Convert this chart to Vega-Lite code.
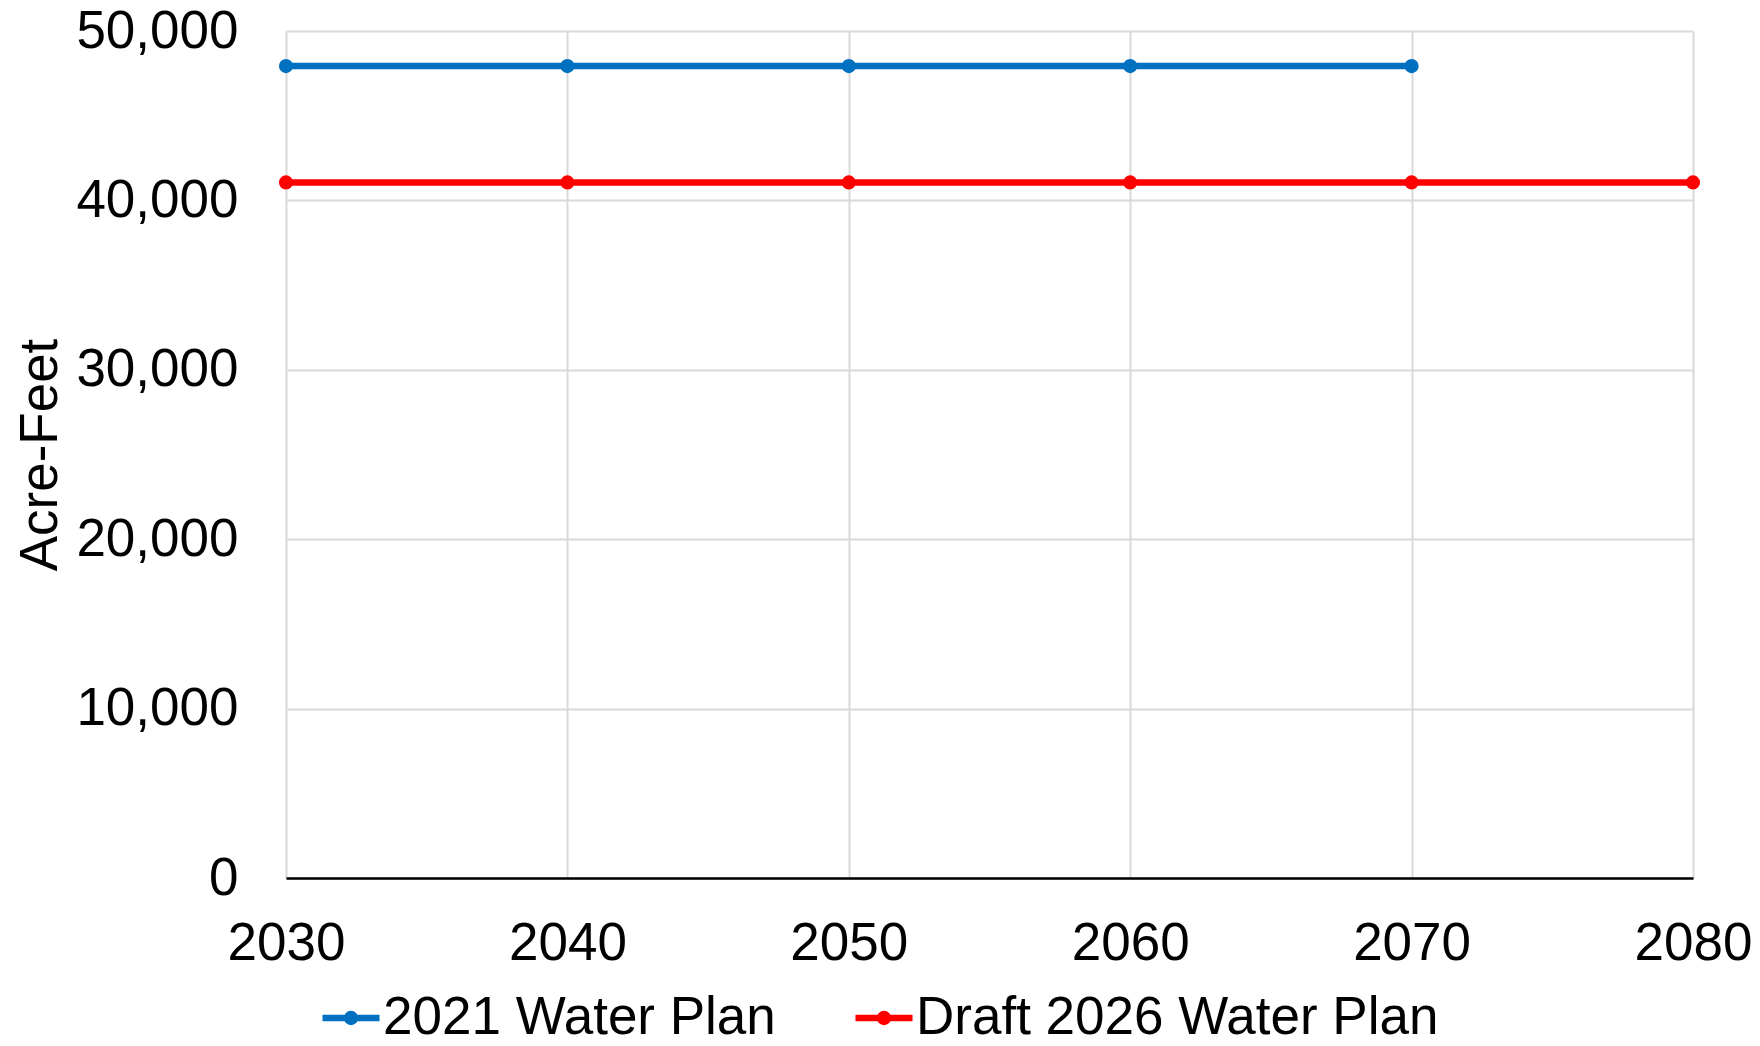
{
  "$schema": "https://vega.github.io/schema/vega-lite/v6.json",
  "width": 1407,
  "height": 847,
  "autosize": {"type": "none"},
  "padding": {"left": 286, "top": 31, "right": 67, "bottom": 168},
  "background": "white",
  "config": {
    "font": "Liberation Sans",
    "view": {"stroke": null},
    "axis": {"labelFont": "Liberation Sans", "titleFont": "Liberation Sans", "labelColor": "black", "titleColor": "black"}
  },
  "data": {
    "values": [
      {"year": 2030, "plan": "2021 Water Plan", "af": 47930},
      {"year": 2040, "plan": "2021 Water Plan", "af": 47930},
      {"year": 2050, "plan": "2021 Water Plan", "af": 47930},
      {"year": 2060, "plan": "2021 Water Plan", "af": 47930},
      {"year": 2070, "plan": "2021 Water Plan", "af": 47930},
      {"year": 2030, "plan": "Draft 2026 Water Plan", "af": 41060},
      {"year": 2040, "plan": "Draft 2026 Water Plan", "af": 41060},
      {"year": 2050, "plan": "Draft 2026 Water Plan", "af": 41060},
      {"year": 2060, "plan": "Draft 2026 Water Plan", "af": 41060},
      {"year": 2070, "plan": "Draft 2026 Water Plan", "af": 41060},
      {"year": 2080, "plan": "Draft 2026 Water Plan", "af": 41060}
    ]
  },
  "mark": {"type": "line", "strokeWidth": 6.5, "point": {"filled": true, "size": 200, "opacity": 1}},
  "encoding": {
    "x": {
      "field": "year", "type": "quantitative",
      "scale": {"domain": [2030, 2080], "nice": false, "zero": false},
      "axis": {
        "values": [2030, 2040, 2050, 2060, 2070, 2080],
        "format": "d", "title": null,
        "labelFontSize": 53, "labelPadding": 39, "labelBaseline": "top",
        "tickSize": 0, "domain": true, "domainColor": "black", "domainWidth": 2.5,
        "grid": true, "gridColor": "#d9d9d9", "gridWidth": 2,
        "labelOverlap": false, "labelFlush": false
      }
    },
    "y": {
      "field": "af", "type": "quantitative",
      "scale": {"domain": [0, 50000], "nice": false},
      "axis": {
        "values": [0, 10000, 20000, 30000, 40000, 50000],
        "format": ",d", "title": "Acre-Feet",
        "titleFontSize": 53, "titleFontWeight": "normal", "titlePadding": 19,
        "labelFontSize": 53, "labelPadding": 48, "labelBaseline": "middle",
        "tickSize": 0, "domain": false,
        "grid": true, "gridColor": "#d9d9d9", "gridWidth": 2,
        "labelOverlap": false, "labelFlush": false
      }
    },
    "color": {
      "field": "plan", "type": "nominal",
      "scale": {"domain": ["2021 Water Plan", "Draft 2026 Water Plan"], "range": ["#0070C0", "#FF0000"]},
      "legend": {
        "title": null,
        "orient": "none",
        "direction": "horizontal",
        "legendX": 33,
        "legendY": 955,
        "labelFontSize": 53,
        "labelColor": "black",
        "labelLimit": 0,
        "labelOffset": 0,
        "columnPadding": 66,
        "symbolType": "M -1 0 L 1 0 M 0.14 0 A 0.14 0.14 0 1 1 -0.14 0 A 0.14 0.14 0 1 1 0.14 0",
        "symbolSize": 3249,
        "symbolStrokeWidth": 6.5,
        "symbolOpacity": 1
      }
    }
  }
}
